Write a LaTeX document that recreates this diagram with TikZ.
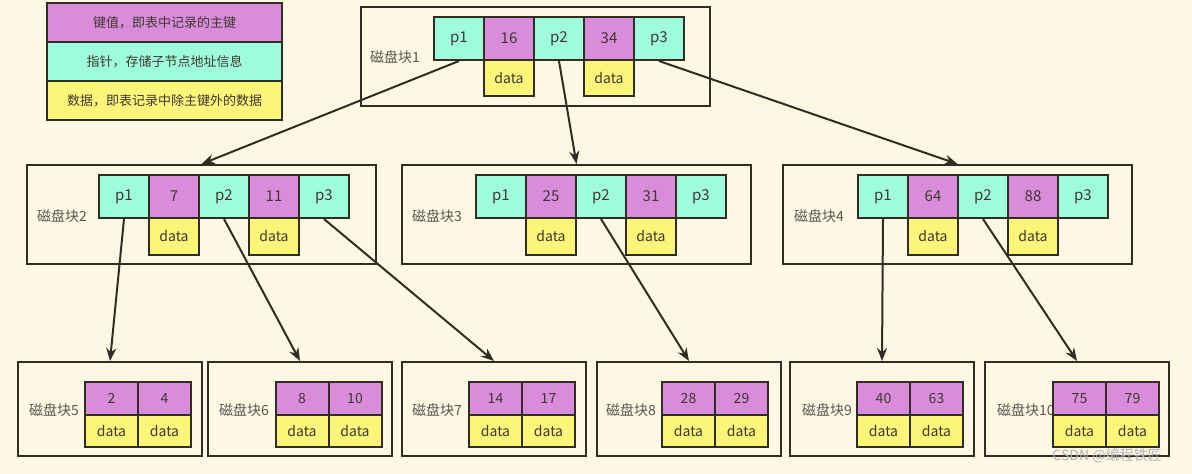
\documentclass[tikz,border=0pt]{standalone}
\usepackage{fontspec}
\setmainfont{Noto Sans CJK SC}
\usetikzlibrary{arrows.meta}
\definecolor{bg}{RGB}{253,247,228}
\definecolor{keyc}{RGB}{216,140,218}
\definecolor{ptrc}{RGB}{158,252,220}
\definecolor{datc}{RGB}{251,246,122}
\definecolor{edgec}{RGB}{50,45,35}
\definecolor{txt}{RGB}{65,55,50}
\begin{document}
\begin{tikzpicture}[x=1pt,y=-1pt,
  cellbase/.style={draw=edgec,line width=2pt,inner sep=0pt,text=txt,font=\fontsize{15}{17}\selectfont},
  ptr/.style={cellbase,fill=ptrc,minimum width=50pt,minimum height=43pt},
  key/.style={cellbase,fill=keyc,minimum width=50pt,minimum height=43pt},
  dat/.style={cellbase,fill=datc,minimum width=50pt,minimum height=37pt,font=\fontsize{14}{16}\selectfont},
  lkey/.style={cellbase,fill=keyc,minimum width=53pt,minimum height=33pt,font=\fontsize{14}{16}\selectfont},
  ldat/.style={cellbase,fill=datc,minimum width=53pt,minimum height=32pt,font=\fontsize{14}{16}\selectfont},
  block/.style={draw=edgec,line width=2pt,fill=bg,inner sep=0pt,minimum width=349pt,minimum height=99pt},
  lblock/.style={draw=edgec,line width=2pt,fill=bg,inner sep=0pt,minimum width=184pt,minimum height=94pt},
  lbl/.style={anchor=west,inner sep=0pt,text=txt!85,font=\fontsize{14}{16}\selectfont},
  legend/.style={draw=edgec,line width=2pt,inner sep=0pt,minimum width=235pt,minimum height=39pt,text=txt,font=\fontsize{13}{15}\selectfont},
  arr/.style={draw=edgec,line width=2pt,-{Stealth[length=13pt,width=10pt]}}
]
\fill[bg] (0,0) rectangle (1192,474);
\useasboundingbox (0,0) rectangle (1192,474);

% legend
\node[legend,fill=keyc] (lg1) at (164.5,22.5) {键值，即表中记录的主键};
\node[legend,fill=ptrc] (lg2) at (164.5,61.5) {指针，存储子节点地址信息};
\node[legend,fill=datc] (lg3) at (164.5,100.5) {数据，即表记录中除主键外的数据};

% root block
\node[block] (b1) at (535.5,56) {};
\node[lbl] (l1) at (370,57) {磁盘块1};
\node[ptr] (b1p1) at (459,38.5) {p1};
\node[key] (b1k1) at (509,38.5) {16};
\node[ptr] (b1p2) at (559,38.5) {p2};
\node[key] (b1k2) at (609,38.5) {34};
\node[ptr] (b1p3) at (659,38.5) {p3};
\node[dat,minimum height=36pt] (b1d1) at (509,78) {data};
\node[dat,minimum height=36pt] (b1d2) at (609,78) {data};

% level 2
\node[block] (b2) at (201.5,214.5) {};
\node[lbl] (l2) at (37,216) {磁盘块2};
\node[ptr] (b2p1) at (124,196.5) {p1};
\node[key] (b2k1) at (174,196.5) {7};
\node[ptr] (b2p2) at (224,196.5) {p2};
\node[key] (b2k2) at (274,196.5) {11};
\node[ptr] (b2p3) at (324,196.5) {p3};
\node[dat] (b2d1) at (174,236.5) {data};
\node[dat] (b2d2) at (274,236.5) {data};

\node[block] (b3) at (576.5,214.5) {};
\node[lbl] (l3) at (412,216) {磁盘块3};
\node[ptr] (b3p1) at (501,196.5) {p1};
\node[key] (b3k1) at (551,196.5) {25};
\node[ptr] (b3p2) at (601,196.5) {p2};
\node[key] (b3k2) at (651,196.5) {31};
\node[ptr] (b3p3) at (701,196.5) {p3};
\node[dat] (b3d1) at (551,236.5) {data};
\node[dat] (b3d2) at (651,236.5) {data};

\node[block] (b4) at (957.5,214.5) {};
\node[lbl] (l4) at (794,216) {磁盘块4};
\node[ptr] (b4p1) at (883,196.5) {p1};
\node[key] (b4k1) at (933,196.5) {64};
\node[ptr] (b4p2) at (983,196.5) {p2};
\node[key] (b4k2) at (1033,196.5) {88};
\node[ptr] (b4p3) at (1083,196.5) {p3};
\node[dat] (b4d1) at (933,236.5) {data};
\node[dat] (b4d2) at (1033,236.5) {data};

% level 3
\node[lblock] (b5) at (110,409) {};
\node[lbl] (l5) at (29,410) {磁盘块5};
\node[lkey] (b5k1) at (111.5,398.5) {2};
\node[lkey] (b5k2) at (164.5,398.5) {4};
\node[ldat] (b5d1) at (111.5,431) {data};
\node[ldat] (b5d2) at (164.5,431) {data};

\node[lblock] (b6) at (300,409) {};
\node[lbl] (l6) at (219,410) {磁盘块6};
\node[lkey] (b6k1) at (302,398.5) {8};
\node[lkey] (b6k2) at (355,398.5) {10};
\node[ldat] (b6d1) at (302,431) {data};
\node[ldat] (b6d2) at (355,431) {data};

\node[lblock] (b7) at (494,409) {};
\node[lbl] (l7) at (412,410) {磁盘块7};
\node[lkey] (b7k1) at (495.5,398.5) {14};
\node[lkey] (b7k2) at (548.5,398.5) {17};
\node[ldat] (b7d1) at (495.5,431) {data};
\node[ldat] (b7d2) at (548.5,431) {data};

\node[lblock] (b8) at (689,409) {};
\node[lbl] (l8) at (606,410) {磁盘块8};
\node[lkey] (b8k1) at (688.5,398.5) {28};
\node[lkey] (b8k2) at (741.5,398.5) {29};
\node[ldat] (b8d1) at (688.5,431) {data};
\node[ldat] (b8d2) at (741.5,431) {data};

\node[lblock] (b9) at (882,409) {};
\node[lbl] (l9) at (802,410) {磁盘块9};
\node[lkey] (b9k1) at (883.5,398.5) {40};
\node[lkey] (b9k2) at (936.5,398.5) {63};
\node[ldat] (b9d1) at (883.5,431) {data};
\node[ldat] (b9d2) at (936.5,431) {data};

\node[lblock] (b10) at (1077,409) {};
\node[lbl] (l10) at (997,410) {磁盘块10};
\node[lkey] (b10k1) at (1079.5,398.5) {75};
\node[lkey] (b10k2) at (1132.5,398.5) {79};
\node[ldat] (b10d1) at (1079.5,431) {data};
\node[ldat] (b10d2) at (1132.5,431) {data};

% arrows
\draw[arr] (b1p1.south) -- (b2.north);
\draw[arr] (b1p2.south) -- (b3.north);
\draw[arr] (b1p3.south) -- (b4.north);
\draw[arr] (b2p1.south) -- (b5.north);
\draw[arr] (b2p2.south) -- (b6.north);
\draw[arr] (b2p3.south) -- (b7.north);
\draw[arr] (b3p2.south) -- (b8.north);
\draw[arr] (b4p1.south) -- (b9.north);
\draw[arr] (b4p2.south) -- (b10.north);

% watermark
\node[inner sep=0pt,text=gray!60,font=\fontsize{14}{16}\selectfont] (wm) at (1107,456) {CSDN @编程铁匠};
\end{tikzpicture}
\end{document}
